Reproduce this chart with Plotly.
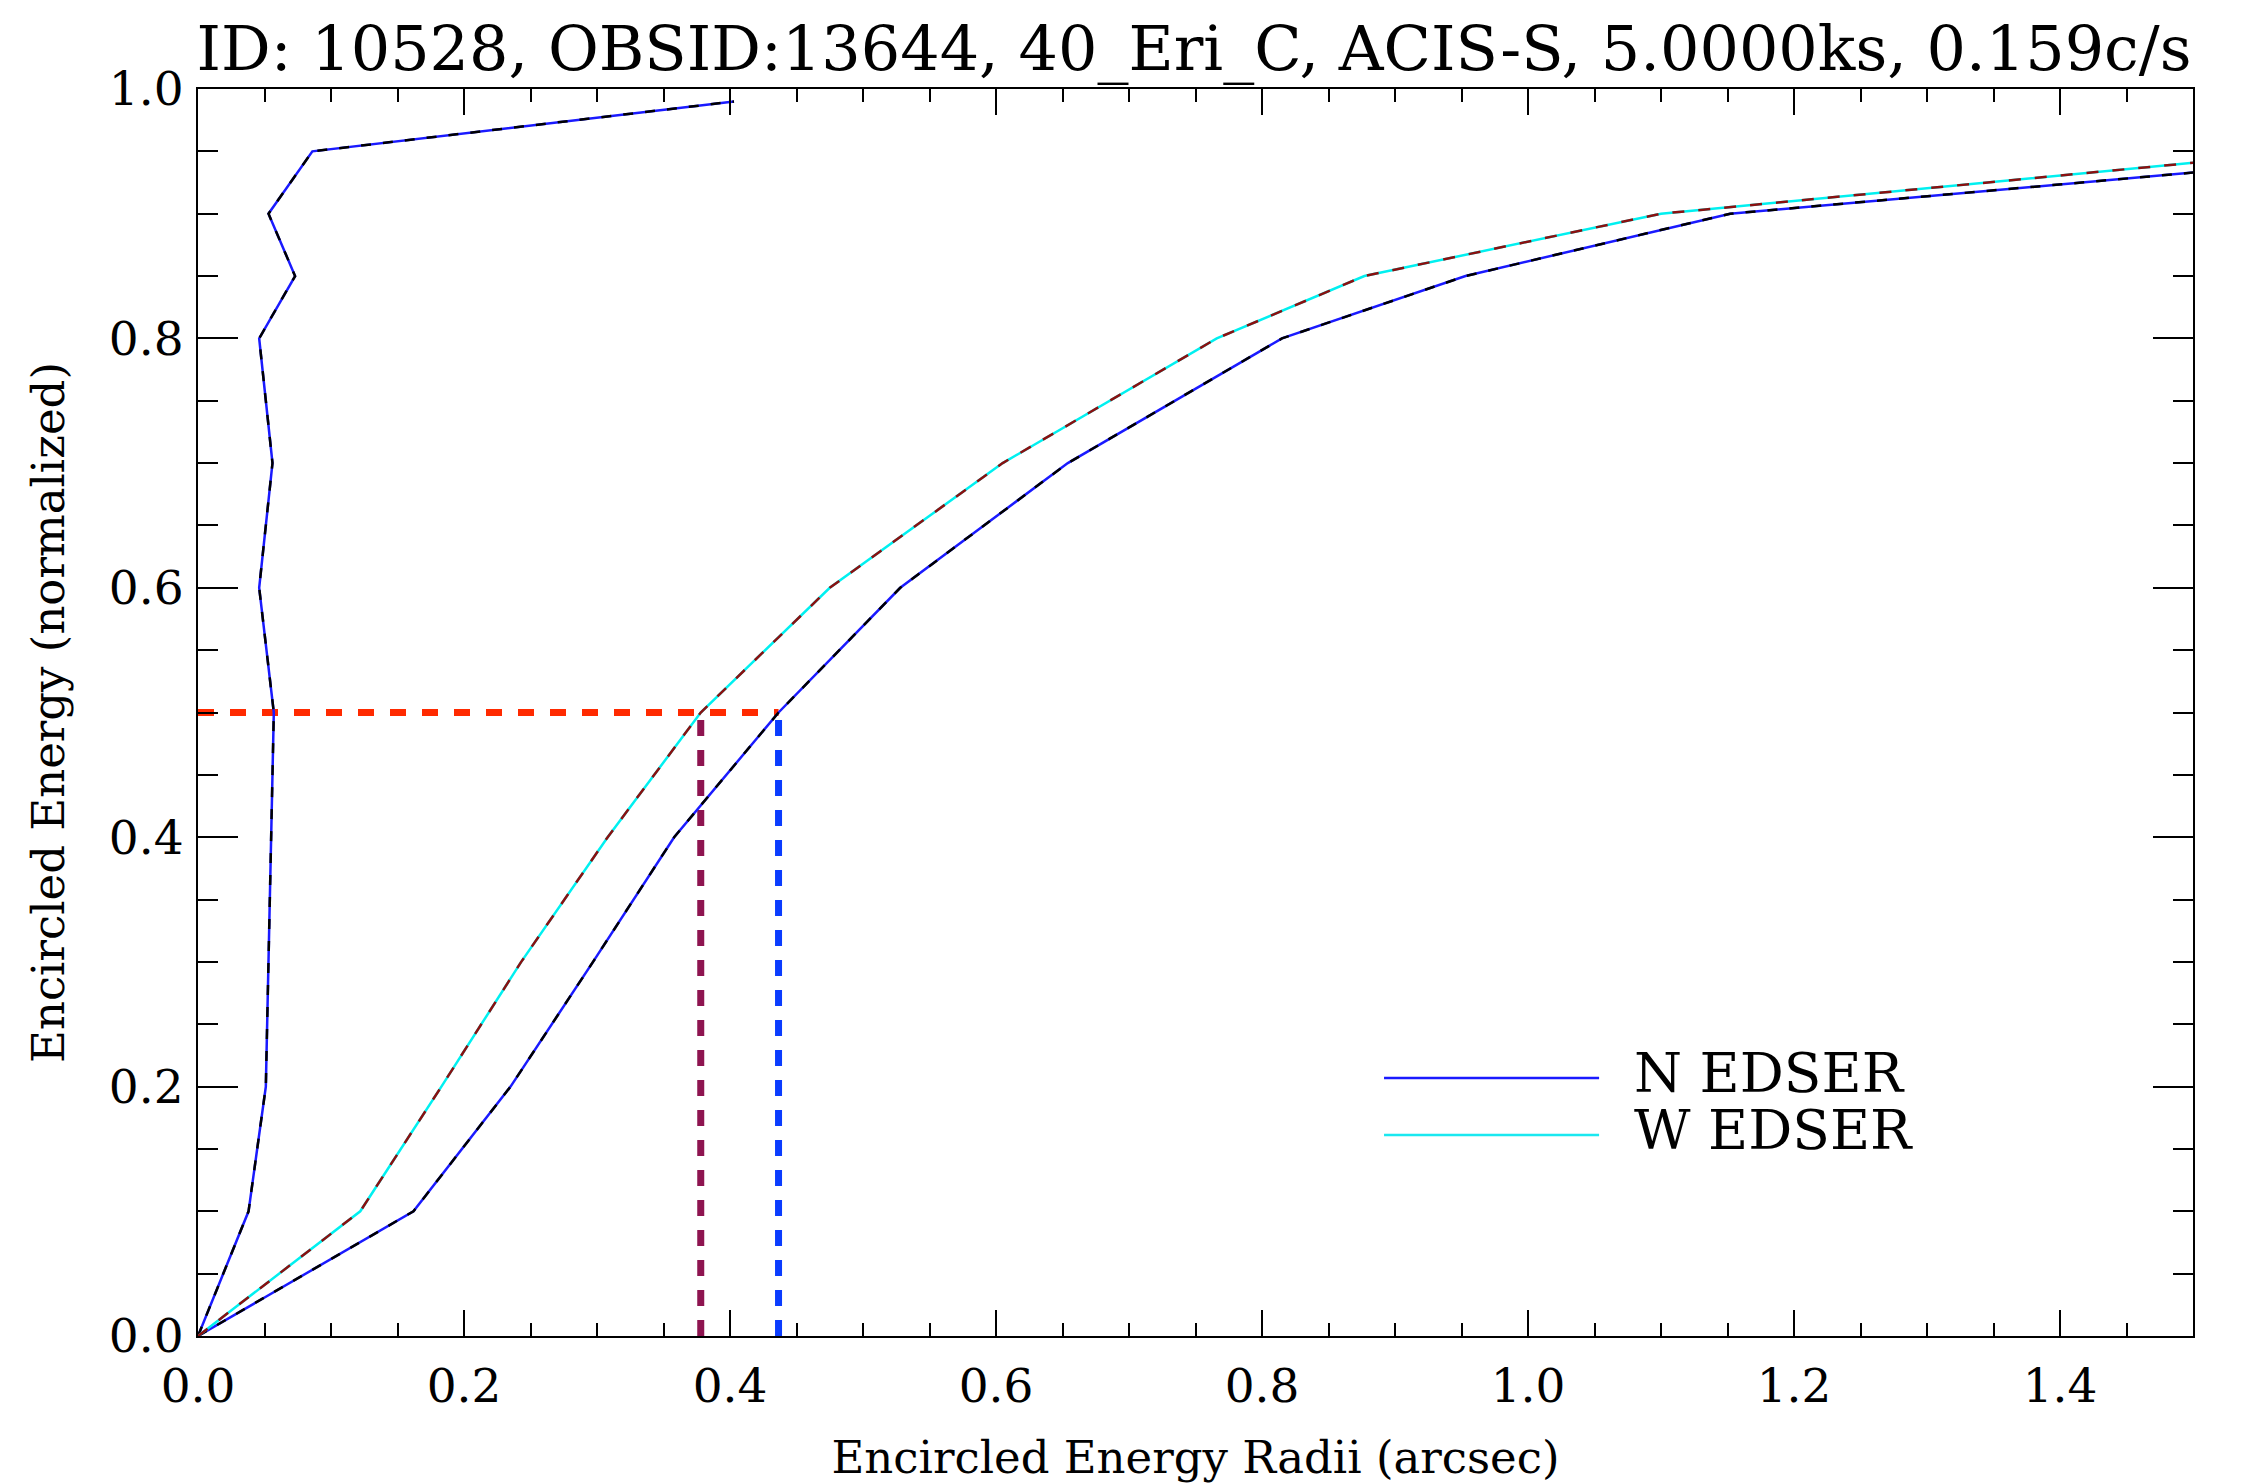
import plotly.graph_objects as go

# encircled energy fractions and radii (arcsec)
ee_psf = [0.0, 0.1, 0.2, 0.3, 0.4, 0.5, 0.6, 0.7, 0.8, 0.85, 0.9, 0.95, 0.99]
r_psf = [0.0, 0.038, 0.051, 0.053, 0.055, 0.057, 0.046, 0.056, 0.046, 0.073, 0.053, 0.086, 0.403]

ee_n = [0.0, 0.1, 0.2, 0.3, 0.4, 0.5, 0.6, 0.7, 0.8, 0.85, 0.9, 0.95]
r_n = [0.0, 0.162, 0.235, 0.297, 0.358, 0.4365, 0.528, 0.654, 0.815, 0.953, 1.152, 1.68]

ee_w = [0.0, 0.1, 0.2, 0.3, 0.4, 0.5, 0.6, 0.7, 0.8, 0.85, 0.9, 0.95]
r_w = [0.0, 0.122, 0.183, 0.243, 0.308, 0.378, 0.475, 0.605, 0.766, 0.877, 1.10, 1.59]

ee_half = 0.5
r50_w = 0.378
r50_n = 0.4365

legend_names = ["N EDSER", "W EDSER"]
legend_colors = ["#1a1aff", "#1ae8f0"]

title = "ID: 10528, OBSID:13644, 40_Eri_C, ACIS-S, 5.0000ks, 0.159c/s"
font = "DejaVu Serif"

fig = go.Figure()

# 50% markers
fig.add_trace(go.Scatter(x=[0, r50_n], y=[ee_half, ee_half], mode='lines',
                         line=dict(color='#ff2a00', width=7, dash='16px,16px'), showlegend=False))
fig.add_trace(go.Scatter(x=[r50_w, r50_w], y=[0, ee_half], mode='lines',
                         line=dict(color='#8e1450', width=7, dash='16px,14px'), showlegend=False))
fig.add_trace(go.Scatter(x=[r50_n, r50_n], y=[0, ee_half], mode='lines',
                         line=dict(color='#0a3cff', width=7, dash='16px,14px'), showlegend=False))

# curves: solid colour with a dashed overlay
fig.add_trace(go.Scatter(x=r_psf, y=ee_psf, mode='lines', line=dict(color='#1a1aff', width=2.5), showlegend=False))
fig.add_trace(go.Scatter(x=r_psf, y=ee_psf, mode='lines', line=dict(color='black', width=2.5, dash='10px,12px'), showlegend=False))
fig.add_trace(go.Scatter(x=r_n, y=ee_n, mode='lines', line=dict(color='#1a1aff', width=2.5), showlegend=False))
fig.add_trace(go.Scatter(x=r_n, y=ee_n, mode='lines', line=dict(color='black', width=2.5, dash='10px,12px'), showlegend=False))
fig.add_trace(go.Scatter(x=r_w, y=ee_w, mode='lines', line=dict(color='#00f0f0', width=2.5), showlegend=False))
fig.add_trace(go.Scatter(x=r_w, y=ee_w, mode='lines', line=dict(color='#8b1010', width=2.5, dash='12px,14px'), showlegend=False))

# hand-drawn legend like the original
leg_y = [0.2069, 0.1612]
for name, col, yy in zip(legend_names, legend_colors, leg_y):
    fig.add_shape(type='line', xref='paper', yref='paper', x0=0.5945, x1=0.7023, y0=yy, y1=yy,
                  line=dict(color=col, width=2.5))
    fig.add_annotation(xref='paper', yref='paper', x=0.7195, y=yy + 0.004, text=name, showarrow=False,
                       xanchor='left', yanchor='middle', borderpad=0,
                       font=dict(family=font, size=55, color='black'))

axis_common = dict(showgrid=False, zeroline=False, showline=True, linecolor='black', linewidth=2,
                   mirror='ticks', ticks='inside', tickcolor='black', tickwidth=2, automargin=False,
                   tickfont=dict(family=font, size=47, color='black'))

fig.update_xaxes(range=[0, 1.5], dtick=0.2, tick0=0, ticklen=26, tickformat='.1f', ticklabelstandoff=8,
                 minor=dict(dtick=0.05, ticklen=13, ticks='inside', tickcolor='black', tickwidth=2),
                 title=dict(text='Encircled Energy Radii (arcsec)', standoff=33,
                            font=dict(family=font, size=45, color='black')),
                 **axis_common)
fig.update_yaxes(range=[0, 1.0], dtick=0.2, tick0=0, ticklen=40, tickformat='.1f', ticklabelstandoff=3,
                 minor=dict(dtick=0.05, ticklen=20, ticks='inside', tickcolor='black', tickwidth=2),
                 title=dict(text='Encircled Energy (normalized)', standoff=30,
                            font=dict(family=font, size=45, color='black')),
                 **axis_common)

# page body has an 8px default margin, so the figure is made 8px smaller and shifted
fig.update_layout(
    width=2242, height=1476,
    margin=dict(l=190, r=57, t=81, b=148),
    paper_bgcolor='white', plot_bgcolor='white',
    title=dict(text=title, x=0.529, xanchor='center', y=1 - 40 / 1476, yanchor='middle', yref='container',
               font=dict(family=font, size=62, color='black')),
)

fig.write_html("out.html")
